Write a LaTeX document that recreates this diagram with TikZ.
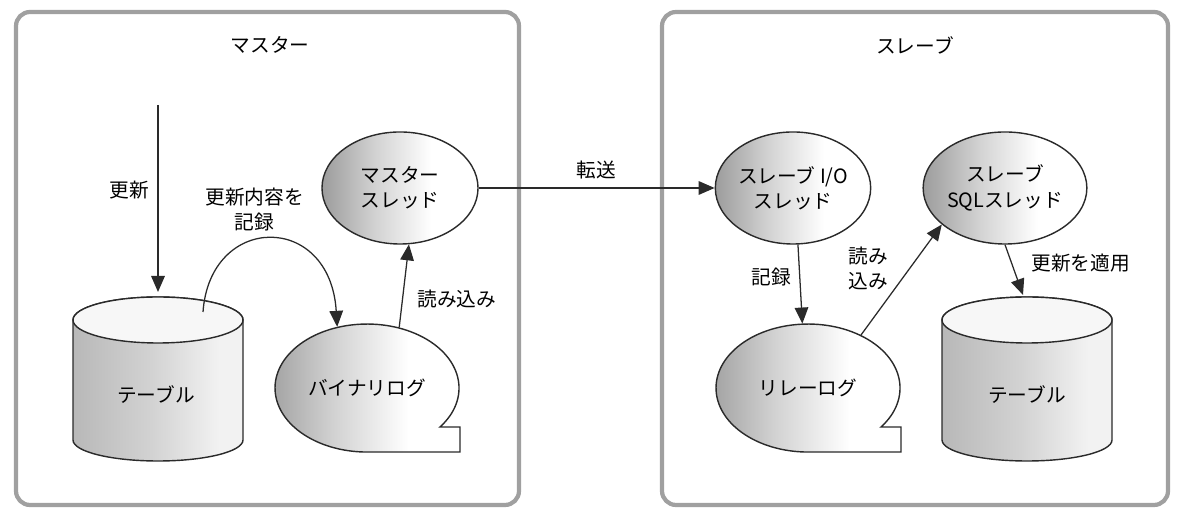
\documentclass[tikz,border=0pt]{standalone}
\usepackage{fontspec}
\setmainfont{Noto Sans CJK JP}
\usetikzlibrary{shapes.geometric,arrows.meta,positioning}
\definecolor{rpLine}{HTML}{2A2A2A}
\definecolor{rpFrame}{HTML}{A0A0A0}
\definecolor{rpDark}{HTML}{9C9C9C}
\definecolor{rpMid}{HTML}{D2D2D2}
\definecolor{rpCylDark}{HTML}{B8B8B8}
\definecolor{rpCylLight}{HTML}{F2F2F2}
\definecolor{rpTop}{HTML}{F7F7F7}
\pgfdeclarehorizontalshading{rpfade}{100bp}{color(0bp)=(rpDark); color(25bp)=(rpDark); color(42bp)=(rpMid); color(60bp)=(white); color(100bp)=(white)}
\pgfdeclarehorizontalshading{rpcyl}{100bp}{color(0bp)=(rpCylDark); color(25bp)=(rpCylDark); color(48bp)=(rpMid); color(68bp)=(rpCylLight); color(100bp)=(rpCylLight)}
\tikzset{
  rp/.style={x=0.025cm, y=0.025cm, font=\fontsize{14pt}{18pt}\selectfont, line width=.8pt, >={Triangle[length=4mm, width=3.4mm]}},
  grpbox/.style={draw=rpFrame, line width=3pt, rounded corners=10pt},
  thr/.style={ellipse, draw=rpLine, line width=1pt, shading=rpfade, align=center, inner sep=0pt, minimum height=2.8cm},
  logbox/.style={ellipse, inner sep=0pt, minimum width=4.6cm, minimum height=3.2cm},
  logshape/.style={draw=rpLine, line width=1pt, shading=rpfade},
  cylbody/.style={draw=rpLine, line width=1pt, shading=rpcyl},
  cyltop/.style={draw=rpLine, line width=1pt, fill=rpTop},
  flow/.style={->, draw=rpLine, line width=.9pt},
  lbl/.style={inner sep=2pt, align=center},
}
\begin{document}
\begin{tikzpicture}[rp]
\useasboundingbox (0,0) rectangle (1200,523);
\draw[grpbox] (16,18) rectangle (519,511);
\draw[grpbox] (662,18) rectangle (1168,511);
\node[lbl] (mttl) at (270,478) {マスター};
\node[lbl] (sttl) at (915,478) {スレーブ};

% master
\shade[cylbody] (73,203) -- (73,83) arc[start angle=180, end angle=360, x radius=85, y radius=21] -- (243,203) arc[start angle=0, end angle=180, x radius=85, y radius=23] -- cycle;
\filldraw[cyltop] (158,203) ellipse[x radius=85, y radius=23];
\node (tblM) at (156,128) {テーブル};
\coordinate (tblMtop) at (158,231);
\coordinate (tblMrim) at (203,211);
\coordinate (updin) at (158,418);

\shade[logshape] (440,96) arc[start angle=-37.5, end angle=270, x radius=92, y radius=64] -- (460,71) -- (460,96) -- cycle;
\node[logbox] (blog) at (367,135) {バイナリログ};
\node[thr, minimum width=3.9cm] (mthr) at (400,335) {マスター\\スレッド};

% slave
\node[thr, minimum width=3.75cm] (iothr) at (793,335) {スレーブ I/O\\スレッド};
\node[thr, minimum width=3.85cm] (sqlthr) at (1005,335) {スレーブ\\SQLスレッド};
\shade[logshape] (881,96) arc[start angle=-37.5, end angle=270, x radius=92, y radius=64] -- (901,71) -- (901,96) -- cycle;
\node[logbox] (rlog) at (808,135) {リレーログ};
\shade[cylbody] (942,203) -- (942,83) arc[start angle=180, end angle=360, x radius=85, y radius=21] -- (1112,203) arc[start angle=0, end angle=180, x radius=85, y radius=23] -- cycle;
\filldraw[cyltop] (1027,203) ellipse[x radius=85, y radius=23];
\node (tblS) at (1027,128) {テーブル};
\coordinate (tblStop) at (1023,228);

% flows
\draw[flow] (updin) -- node[lbl, left, xshift=-4pt, yshift=6pt] {更新} (tblMtop);
\draw[flow] (tblMrim) .. controls +(7,99) and +(-7,115) .. node[lbl, above, xshift=-11pt, yshift=3pt] {更新内容を\\記録} (blog.116);
\draw[flow] (blog.62) -- node[lbl, right, xshift=7pt, yshift=-9pt] {読み込み} (mthr.279);
\draw[flow] (mthr.east) -- node[lbl, above, yshift=4pt] {転送} (iothr.west);
\draw[flow] (iothr.275) -- node[lbl, left, xshift=-4pt, yshift=5pt] {記録} (rlog.95);
\draw[flow] (rlog.45) -- node[lbl, left, xshift=-7pt, yshift=8pt] {読み\\込み} (sqlthr.210);
\draw[flow] (sqlthr.south) -- node[lbl, right, xshift=10pt, yshift=5pt] {更新を適用} (tblStop);
\end{tikzpicture}
\end{document}
